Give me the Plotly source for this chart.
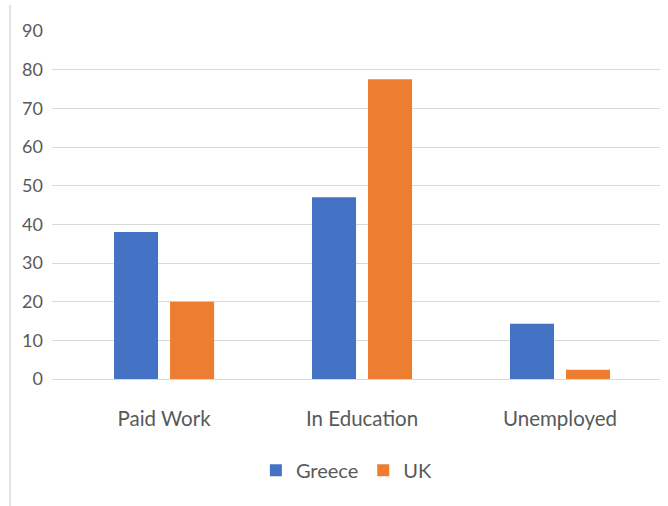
import plotly.graph_objects as go

categories = ["Paid Work", "In Education", "Unemployed"]
greece = [38, 47, 14.3]
uk = [20, 77.5, 2.4]
y_ticks = [0, 10, 20, 30, 40, 50, 60, 70, 80, 90]

FONT = "Lato"
TEXT = "#595959"

fig = go.Figure()
fig.add_trace(go.Bar(name="Greece", x=categories, y=greece,
                     marker=dict(color="#4472C4", line=dict(width=0))))
fig.add_trace(go.Bar(name="UK", x=categories, y=uk,
                     marker=dict(color="#ED7D31", line=dict(width=0))))

fig.update_layout(
    width=668, height=506,
    margin=dict(l=52, r=8, t=31, b=127),
    paper_bgcolor="white", plot_bgcolor="white",
    barmode="group", bargap=0.434, bargroupgap=0.214,
    font=dict(family=FONT, size=19, color=TEXT),
    showlegend=True,
    legend=dict(orientation="h", x=0.485, xanchor="center", y=-0.262, yanchor="middle",
                font=dict(family=FONT, size=20, color=TEXT),
                itemwidth=30, tracegroupgap=0, bgcolor="rgba(0,0,0,0)"),
    xaxis=dict(range=[-0.566, 2.505], showgrid=False, zeroline=False, showline=False,
               ticks="outside", ticklen=21, tickcolor="rgba(0,0,0,0)",
               tickfont=dict(family=FONT, size=20.5, color=TEXT)),
    yaxis=dict(range=[0, 90], tickvals=y_ticks, showgrid=True, gridcolor="#D9D9D9",
               gridwidth=1, zeroline=True, zerolinecolor="#D9D9D9", zerolinewidth=1,
               showline=False, ticks="", ticklabelstandoff=8,
               tickfont=dict(family=FONT, size=18, color=TEXT)),
)

# chart-area border on the left edge
fig.add_shape(type="line", xref="paper", yref="paper",
              x0=-42 / 608, x1=-42 / 608, y0=-127 / 348, y1=(379 - 5) / 348,
              line=dict(color="#D9D9D9", width=1.5))

fig.write_html("out.html")
